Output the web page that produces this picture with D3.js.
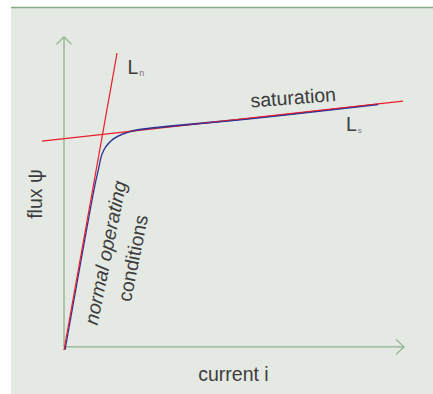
<!DOCTYPE html>
<html>
<head>
<meta charset="utf-8">
<script src="https://cdn.jsdelivr.net/npm/d3@7"></script>
<style>
  html, body { margin: 0; padding: 0; background: #fff; }
  svg { display: block; }
  text { font-family: "Liberation Sans", Arial, sans-serif; fill: #3c3c3c; }
</style>
</head>
<body>
<svg></svg>
<script>
const [svgWidth, svgHeight] = [433, 394];

// data, in (current i, flux ψ) units
const lnLine = [[0, 0], [1.56, 9.58]];
const lsLine = [[-0.65, 6.74], [9.97, 8.03]];
const curveCurrent = [0.03, 0.91, 1.01, 1.11, 1.23, 1.40, 1.60, 1.84, 2.09, 2.38, 2.97, 5.47, 9.24];
const curveFlux = [0, 5.32, 5.81, 6.29, 6.56, 6.77, 6.91, 7.02, 7.09, 7.14, 7.21, 7.47, 7.93];
const axisX = [[0, 0.1], [10, 0.1]];
const axisY = [[0, 0.1], [0, 10.1]];
const labels = { x: 'current i', y: 'flux ψ', sat: 'saturation', op1: 'normal operating', op2: 'conditions' };

const xScale = d3.scaleLinear().domain([0, 10]).range([64, 404]);
const yScale = d3.scaleLinear().domain([0, 10]).range([350, 40]);

const svg = d3.select('svg')
    .attr('width', svgWidth)
    .attr('height', svgHeight);

// panel
svg.append('rect')
    .attr('x', 11).attr('y', 7)
    .attr('width', svgWidth - 11).attr('height', svgHeight - 7)
    .attr('fill', '#e4e9e3');
svg.append('line')
    .attr('x1', 11).attr('x2', svgWidth)
    .attr('y1', 7.5).attr('y2', 7.5)
    .attr('stroke', '#8aab8a').attr('stroke-width', 1.5);

const line = d3.line()
    .x(d => xScale(d[0]))
    .y(d => yScale(d[1]));
const smooth = d3.line()
    .x(d => xScale(d[0]))
    .y(d => yScale(d[1]))
    .curve(d3.curveCatmullRom);

const axisColor = '#8fb08f';

// axes with open arrow heads
[axisX, axisY].forEach(a => {
    svg.append('path')
        .datum(a)
        .attr('fill', 'none')
        .attr('stroke', axisColor)
        .attr('stroke-width', 1.3)
        .attr('d', line);
});
const xTip = [xScale(axisX[1][0]), yScale(axisX[1][1])];
svg.append('path')
    .attr('fill', 'none').attr('stroke', axisColor).attr('stroke-width', 1.3)
    .attr('d', `M${xTip[0] - 8},${xTip[1] - 7.5}L${xTip[0]},${xTip[1]}L${xTip[0] - 8},${xTip[1] + 7.5}`);
const yTip = [xScale(axisY[1][0]), yScale(axisY[1][1])];
svg.append('path')
    .attr('fill', 'none').attr('stroke', axisColor).attr('stroke-width', 1.3)
    .attr('d', `M${yTip[0] - 7.5},${yTip[1] + 7.5}L${yTip[0]},${yTip[1]}L${yTip[0] + 7.5},${yTip[1] + 7.5}`);

// magnetisation curve
const curveData = curveCurrent.map((c, i) => [c, curveFlux[i]]);
svg.append('path')
    .datum(curveData)
    .attr('fill', 'none')
    .attr('stroke', '#2a3596')
    .attr('stroke-width', 1.3)
    .attr('d', smooth);

// tangent lines
[lnLine, lsLine].forEach(l => {
    svg.append('path')
        .datum(l)
        .attr('fill', 'none')
        .attr('stroke', '#ec1c2a')
        .attr('stroke-width', 1.2)
        .attr('d', line);
});
// blue again on the saturation part so both colours show
svg.append('path')
    .datum(curveData.slice(4))
    .attr('fill', 'none')
    .attr('stroke', '#2a3596')
    .attr('stroke-width', 1)
    .attr('transform', 'translate(0,0.6)')
    .attr('d', smooth);

// labels
const fs = 19.5;
svg.append('text')
    .attr('x', 233.5).attr('y', 381)
    .attr('text-anchor', 'middle')
    .attr('font-size', fs)
    .text(labels.x);

svg.append('text')
    .attr('transform', 'translate(42,194) rotate(-90)')
    .attr('text-anchor', 'middle')
    .attr('font-size', fs)
    .text(labels.y);

svg.append('text')
    .attr('transform', 'translate(251,107.5) rotate(-4.4)')
    .attr('font-size', fs)
    .text(labels.sat);

const ln = svg.append('text').attr('x', 127.5).attr('y', 74).attr('font-size', fs).text('L');
ln.append('tspan').attr('font-size', 9).attr('dy', 2).attr('dx', 1).attr('fill', '#777').text('n');

const ls = svg.append('text').attr('x', 346).attr('y', 131).attr('font-size', fs).text('L');
ls.append('tspan').attr('font-size', 8).attr('dy', 2.3).attr('dx', 1).attr('fill', '#777').text('s');

const op = svg.append('text')
    .attr('transform', 'translate(112,254) rotate(-78.5)')
    .attr('text-anchor', 'middle')
    .attr('font-size', fs);
op.append('tspan').attr('x', 0).attr('y', 0).attr('font-style', 'italic').text(labels.op1);
op.append('tspan').attr('x', 0).attr('y', 28).text(labels.op2);
</script>
</body>
</html>
